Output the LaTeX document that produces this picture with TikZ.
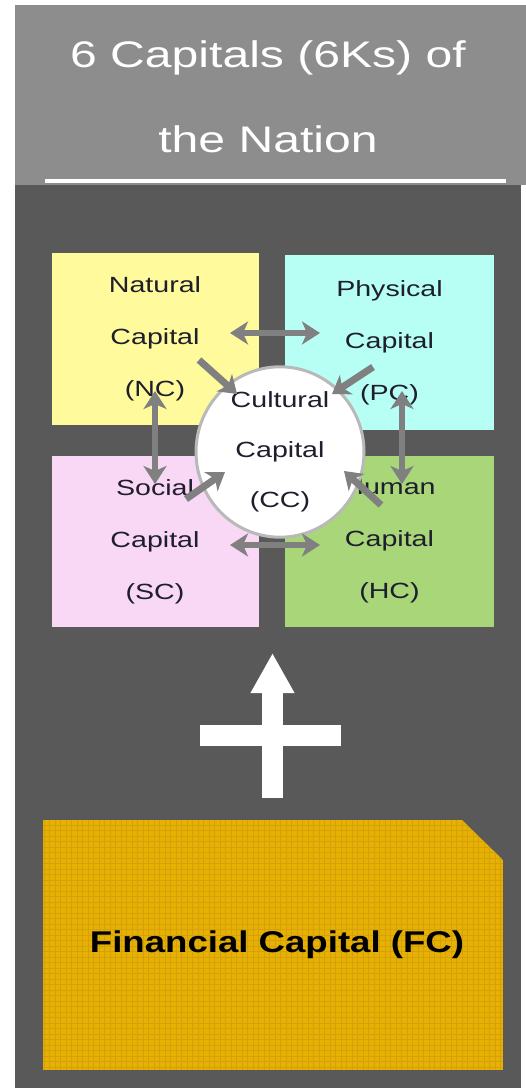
\documentclass[tikz,border=0pt]{standalone}
\usepackage{fontspec}
\setmainfont{Liberation Sans}
\usetikzlibrary{arrows.meta,shapes.geometric}
\definecolor{hdr}{RGB}{141,141,141}
\definecolor{panel}{RGB}{89,89,89}
\definecolor{ncY}{RGB}{255,250,155}
\definecolor{pcC}{RGB}{183,255,245}
\definecolor{scP}{RGB}{248,216,245}
\definecolor{hcG}{RGB}{168,214,120}
\definecolor{arr}{RGB}{128,128,128}
\definecolor{gold}{RGB}{230,177,0}
\definecolor{goldgrid}{RGB}{200,150,20}
\definecolor{ink}{RGB}{30,30,45}
\newcommand{\hs}[1]{\scalebox{1.3}[1]{#1}}
\begin{document}
\begin{tikzpicture}[x=1pt,y=-1pt,
  capbox/.style={rectangle, inner sep=0pt, minimum width=207pt, minimum height=172pt,
    align=center, text=ink, font=\fontsize{22}{52}\selectfont},
  biarrow/.style={draw=arr, line width=6.5pt,
    {Stealth[length=18pt,width=23pt,inset=5pt]}-{Stealth[length=18pt,width=23pt,inset=5pt]}},
  toarrow/.style={draw=arr, line width=7pt, -{Stealth[length=17pt,width=23pt,inset=5pt]}},
  titletext/.style={text=white, font=\fontsize{37}{44}\selectfont, anchor=base, inner sep=0pt},
]
\useasboundingbox (0,0) rectangle (526,1091);
\fill[white] (0,0) rectangle (526,1091);
% header and panel
\fill[hdr] (15,5) rectangle (526,185);
\fill[panel] (15,185) rectangle (521,1088);
\draw[white, line width=4pt] (45,181) -- (506,181);
\node[titletext] (t1) at (268,68) {\hs{6 Capitals (6Ks) of}};
\node[titletext] (t2) at (268,153) {\hs{the Nation}};
% capital boxes
\node[capbox, fill=ncY] (nc) at (155,339) {\hs{Natural}\\\hs{Capital}\\\hs{(NC)}};
\node[capbox, fill=pcC, minimum width=209pt, minimum height=175pt] (pc) at (389.5,342.5) {\hs{Physical}\\\hs{Capital}\\\hs{(PC)}};
\node[capbox, fill=scP, minimum height=171pt] (sc) at (155,541.5) {\hs{Social}\\\hs{Capital}\\\hs{(SC)}};
\node[capbox, fill=hcG, minimum width=209pt, minimum height=171pt] (hc) at (389.5,541.5) {\hs{Human}\\\hs{Capital}\\\hs{(HC)}};
% cultural capital circle
\node[ellipse, fill=white, draw=arr!55, line width=3pt, minimum width=168pt, minimum height=152pt,
  inner sep=0pt, align=center, text=ink, font=\fontsize{22}{50}\selectfont] (cc) at (280,452)
  {\hs{Cultural}\\\hs{Capital}\\\hs{(CC)}};
% connectors
\coordinate (ncE) at (230,333);
\coordinate (pcW) at (320,333);
\coordinate (scE) at (230,545);
\coordinate (hcW) at (320,545);
\coordinate (ncS) at (155,391);
\coordinate (scN) at (155,484);
\coordinate (pcS) at (402,391);
\coordinate (hcN) at (402,484);
\coordinate (ncD) at (199,360);
\coordinate (ncT) at (237,394);
\coordinate (pcD) at (373,367);
\coordinate (pcT) at (332,394);
\coordinate (scD) at (186,499);
\coordinate (scT) at (225,472);
\coordinate (hcD) at (381,505);
\coordinate (hcT) at (344,471);
\draw[biarrow] (ncE) -- (pcW);
\draw[biarrow] (scE) -- (hcW);
\draw[biarrow] (ncS) -- (scN);
\draw[biarrow] (pcS) -- (hcN);
\draw[toarrow] (ncD) -- (ncT);
\draw[toarrow] (pcD) -- (pcT);
\draw[toarrow] (scD) -- (scT);
\draw[toarrow] (hcD) -- (hcT);
% financial capital
\begin{scope}
  \clip (43,820) -- (462,820) -- (503,860) -- (503,1070) -- (43,1070) -- cycle;
  \fill[gold] (43,820) rectangle (503,1070);
  \draw[goldgrid, line width=0.9pt, opacity=0.6, step=5.5pt] (43,820) grid (503,1070);
\end{scope}
\node[text=black, font=\fontsize{30}{36}\selectfont\bfseries] (fc) at (277,945) {\scalebox{1.22}[1]{Financial Capital (FC)}};
% plus sign and up arrow
\fill[white] (200,725) rectangle (341,746);
\coordinate (upS) at (272.5,798);
\coordinate (upN) at (272.5,653);
\draw[white, line width=21pt, -{Triangle[length=40pt,width=41pt]}] (upS) -- (upN);
\end{tikzpicture}
\end{document}
